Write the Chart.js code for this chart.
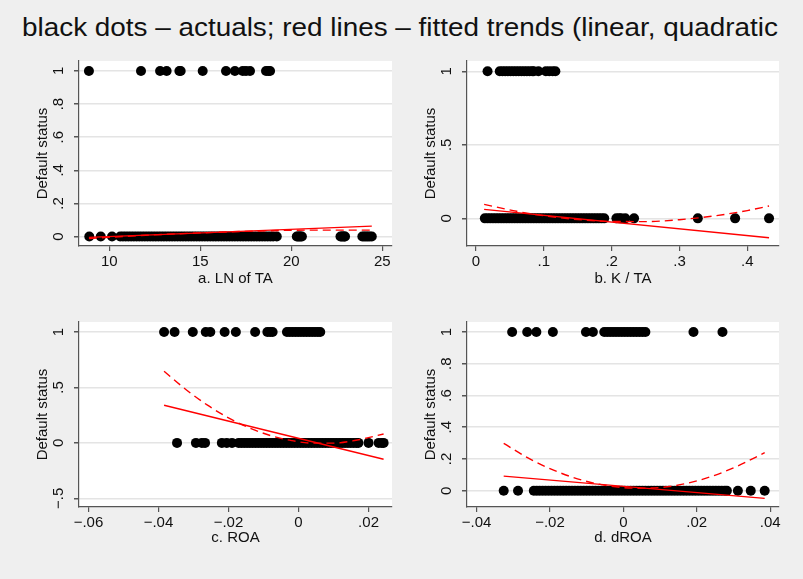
<!DOCTYPE html>
<html>
<head>
<meta charset="utf-8">
<script src="https://cdn.jsdelivr.net/npm/chart.js@4.4.1/dist/chart.umd.min.js"></script>
<style>
  html, body { margin: 0; padding: 0; background: #efefef; }
  #wrap { position: relative; width: 803px; height: 579px; overflow: hidden; background: #efefef; }
  #title {
    position: absolute; left: 22px; top: 14px;
    font-family: "Liberation Sans", Arial, sans-serif; font-size: 26px; line-height: 26px;
    color: #111; white-space: nowrap; transform-origin: 0 0;
  }
  canvas { position: absolute; }
</style>
</head>
<body>
<div id="wrap">
  <div id="title">black dots – actuals; red lines – fitted trends (linear, quadratic</div>
  <canvas id="panelA" width="400" height="250" style="left:0px;top:50px"></canvas>
  <canvas id="panelB" width="403" height="250" style="left:400px;top:50px"></canvas>
  <canvas id="panelC" width="400" height="269" style="left:0px;top:310px"></canvas>
  <canvas id="panelD" width="403" height="269" style="left:400px;top:310px"></canvas>
</div>
<script>
// a. LN of TA
const lnTaNonDefault = [8.9, 9.53, 10.15,
  10.6, 10.75, 10.9, 11.05, 11.2, 11.35, 11.5, 11.65, 11.8, 11.95, 12.1, 12.25, 12.4, 12.55, 12.7, 12.85,
  13.0, 13.15, 13.3, 13.45, 13.6, 13.75, 13.9, 14.05, 14.2, 14.35, 14.5, 14.65, 14.8, 14.95, 15.1, 15.25,
  15.4, 15.55, 15.7, 15.85, 16.0, 16.15, 16.3, 16.45, 16.6, 16.75, 16.9, 17.05, 17.2, 17.35, 17.5, 17.65,
  17.8, 17.95, 18.1, 18.25, 18.4, 18.55, 18.7, 18.85, 19.0, 19.2,
  20.3, 20.37, 20.44, 20.51, 20.58, 22.7, 22.77, 22.84, 22.91, 22.95,
  23.9, 24.0, 24.1, 24.2, 24.3, 24.42];
const lnTaDefault = [8.88, 11.74, 12.79, 13.15, 13.85, 13.92, 15.13, 16.41, 16.9, 17.33, 17.51, 17.73, 18.61, 18.74, 18.83];
const lnTaLinX = [8.88, 24.42];
const lnTaLinY = [-0.005, 0.063];
const lnTaQuadX = [8.88, 12, 15, 18, 21, 24.42];
const lnTaQuadY = [-0.012, 0.008, 0.022, 0.033, 0.039, 0.039];
const lnTaXTicks = [10, 15, 20, 25];
const lnTaXLabels = ['10', '15', '20', '25'];
const lnTaYTicks = [0, 0.2, 0.4, 0.6, 0.8, 1];
const lnTaYLabels = ['0', '.2', '.4', '.6', '.8', '1'];

// b. K / TA
const ktaNonDefault = [0.013, 0.017, 0.021, 0.025, 0.029, 0.033, 0.037, 0.041, 0.045, 0.049, 0.053, 0.057,
  0.061, 0.065, 0.069, 0.073, 0.077, 0.081, 0.085, 0.089, 0.093, 0.097, 0.101, 0.105, 0.109, 0.113, 0.117,
  0.121, 0.125, 0.129, 0.133, 0.137, 0.141, 0.145, 0.149, 0.153, 0.157, 0.161, 0.165, 0.169, 0.173, 0.177,
  0.181, 0.185, 0.189, 0.207, 0.211, 0.214, 0.22, 0.233, 0.327, 0.382, 0.432];
const ktaDefault = [0.017, 0.035, 0.039, 0.043, 0.047, 0.051, 0.055, 0.059, 0.063, 0.067, 0.071, 0.075,
  0.079, 0.083, 0.085, 0.092, 0.103, 0.108, 0.113, 0.117];
const ktaLinX = [0.012, 0.432];
const ktaLinY = [0.061, -0.132];
const ktaQuadX = [0.012, 0.06, 0.1, 0.15, 0.2, 0.25, 0.3, 0.35, 0.4, 0.432];
const ktaQuadY = [0.095, 0.048, 0.018, -0.008, -0.021, -0.022, -0.009, 0.016, 0.053, 0.084];
const ktaXTicks = [0, 0.1, 0.2, 0.3, 0.4];
const ktaXLabels = ['0', '.1', '.2', '.3', '.4'];
const ktaYTicks = [0, 0.5, 1];
const ktaYLabels = ['0', '.5', '1'];

// c. ROA
const roaNonDefault = [-0.0347, -0.0293, -0.0276, -0.0267, -0.0219, -0.0205, -0.019,
  -0.0171, -0.0163, -0.0155, -0.0147, -0.0139, -0.0131, -0.0123, -0.0115, -0.0107, -0.0099, -0.0091, -0.0083,
  -0.0075, -0.0067, -0.0059, -0.0051, -0.0043, -0.0035, -0.0027, -0.0019, -0.0011, -0.0003, 0.0005, 0.0013,
  0.0021, 0.0029, 0.0037, 0.0045, 0.0053, 0.0061, 0.0069, 0.0077, 0.0085, 0.0093, 0.0101, 0.0109, 0.0117,
  0.0125, 0.0133, 0.0141, 0.0149, 0.0157, 0.0165, 0.0171,
  0.02, 0.0229, 0.0238, 0.0243];
const roaDefault = [-0.0384, -0.0354, -0.0302, -0.0265, -0.0252, -0.0211, -0.0179, -0.0124, -0.0089, -0.0081,
  -0.0074, -0.0033, -0.0025, -0.0017, -0.0009, -0.0001, 0.0007, 0.0015, 0.0023, 0.0031, 0.0039, 0.0047,
  0.0055, 0.0062];
const roaLinX = [-0.0384, 0.0243];
const roaLinY = [0.339, -0.147];
const roaQuadX = [-0.0384, -0.032, -0.026, -0.02, -0.014, -0.008, -0.002, 0.004, 0.01, 0.016, 0.0243];
const roaQuadY = [0.646, 0.477, 0.34, 0.226, 0.135, 0.066, 0.021, -0.002, -0.002, 0.021, 0.08];
const roaXTicks = [-0.06, -0.04, -0.02, 0, 0.02];
const roaXLabels = ['\u2212.06', '\u2212.04', '\u2212.02', '0', '.02'];
const roaYTicks = [-0.5, 0, 0.5, 1];
const roaYLabels = ['\u2212.5', '0', '.5', '1'];

// d. dROA
const droaNonDefault = [-0.0326, -0.0287,
  -0.0244, -0.0236, -0.0228, -0.022, -0.0212, -0.0204, -0.0196, -0.0188, -0.018, -0.0172, -0.0164, -0.0156,
  -0.0148, -0.014, -0.0132, -0.0124, -0.0116, -0.0108, -0.01, -0.0092, -0.0084, -0.0076, -0.0068, -0.006,
  -0.0052, -0.0044, -0.0036, -0.0028, -0.002, -0.0012, -0.0004, 0.0004, 0.0012, 0.002, 0.0028, 0.0036,
  0.0044, 0.0052, 0.006, 0.0068, 0.0076, 0.0084, 0.0092, 0.01, 0.0108, 0.0116, 0.0124, 0.0132, 0.014,
  0.0148, 0.0156, 0.0164, 0.0172, 0.018, 0.0188, 0.0196, 0.0204, 0.0212, 0.022, 0.0228, 0.0236, 0.0244,
  0.0252, 0.026, 0.0268, 0.0276, 0.0282,
  0.0312, 0.0347, 0.0385];
const droaDefault = [-0.0303, -0.0262, -0.0237, -0.0192, -0.0102, -0.0083,
  -0.0052, -0.0044, -0.0036, -0.0028, -0.002, -0.0012, -0.0004, 0.0004, 0.0012, 0.002, 0.0028, 0.0036,
  0.0044, 0.0052, 0.006, 0.0191, 0.027];
const droaLinX = [-0.0326, 0.0385];
const droaLinY = [0.092, -0.048];
const droaQuadX = [-0.0326, -0.025, -0.018, -0.011, -0.004, 0.003, 0.01, 0.017, 0.024, 0.031, 0.0385];
const droaQuadY = [0.298, 0.194, 0.12, 0.065, 0.031, 0.016, 0.02, 0.045, 0.09, 0.154, 0.24];
const droaXTicks = [-0.04, -0.02, 0, 0.02, 0.04];
const droaXLabels = ['\u2212.04', '\u2212.02', '0', '.02', '.04'];
const droaYTicks = [0, 0.2, 0.4, 0.6, 0.8, 1];
const droaYLabels = ['0', '.2', '.4', '.6', '.8', '1'];

const yTitle = 'Default status';
const FONT = '"Liberation Sans", Arial, sans-serif';

// stretch the title to the width it has in the picture
const titleEl = document.getElementById('title');
const tw = titleEl.getBoundingClientRect().width;
titleEl.style.transform = 'scaleX(' + (756 / tw) + ')';

const toPoints = (xs, ys) => xs.map((x, i) => ({ x: x, y: ys[i] }));

// draws stata-like tick labels (rotated on y) and axis titles
const stataLabels = {
    id: 'stataLabels',
    beforeDraw(chart) {
        const a = chart.chartArea;
        const ctx = chart.ctx;
        ctx.save();
        ctx.fillStyle = '#ffffff';
        ctx.fillRect(a.left, a.top, a.right - a.left, a.bottom - a.top);
        ctx.restore();
    },
    afterDraw(chart) {
        const p = chart.options.plugins.stataLabels;
        const a = chart.chartArea;
        const ctx = chart.ctx;
        const xs = chart.scales.x, ys = chart.scales.y;
        ctx.save();
        ctx.fillStyle = '#111';
        ctx.font = '15px ' + FONT;
        ctx.textAlign = 'center';
        ctx.textBaseline = 'middle';
        p.xTicks.forEach((v, i) => {
            ctx.fillText(p.xLabels[i], xs.getPixelForValue(v), a.bottom + 16);
        });
        ctx.fillText(p.xTitle, (a.left + a.right) / 2, a.bottom + p.titleGap);
        p.yTicks.forEach((v, i) => {
            ctx.save();
            ctx.translate(a.left - 20, ys.getPixelForValue(v));
            ctx.rotate(-Math.PI / 2);
            ctx.fillText(p.yLabels[i], 0, 0);
            ctx.restore();
        });
        ctx.translate(a.left - 36, (a.top + a.bottom) / 2);
        ctx.rotate(-Math.PI / 2);
        ctx.fillText(yTitle, 0, 0);
        ctx.restore();
    }
};

function drawPanel(id, cfg) {
    const ctx = document.getElementById(id).getContext('2d');
    return new Chart(ctx, {
        type: 'scatter',
        data: {
            datasets: [
                {
                    label: 'linear',
                    data: toPoints(cfg.linX, cfg.linY),
                    showLine: true,
                    borderColor: '#ff0000',
                    borderWidth: 1.4,
                    pointRadius: 0,
                    fill: false
                },
                {
                    label: 'quadratic',
                    data: toPoints(cfg.quadX, cfg.quadY),
                    showLine: true,
                    borderColor: '#ff0000',
                    borderWidth: 1.4,
                    borderDash: [8, 5],
                    cubicInterpolationMode: 'monotone',
                    pointRadius: 0,
                    fill: false
                },
                {
                    label: 'default',
                    data: cfg.ones.map(x => ({ x: x, y: 1 })),
                    backgroundColor: '#000',
                    borderWidth: 0,
                    pointRadius: 5,
                    clip: false
                },
                {
                    label: 'non-default',
                    data: cfg.zeros.map(x => ({ x: x, y: 0 })),
                    backgroundColor: '#000',
                    borderWidth: 0,
                    pointRadius: 5,
                    clip: false
                }
            ]
        },
        options: {
            responsive: false,
            animation: false,
            events: [],
            layout: { padding: { top: cfg.padTop, right: cfg.padRight, left: 0, bottom: 0 } },
            plugins: {
                legend: { display: false },
                tooltip: { enabled: false },
                stataLabels: {
                    xTicks: cfg.xTicks, xLabels: cfg.xLabels, yTicks: cfg.yTicks, yLabels: cfg.yLabels,
                    xTitle: cfg.xTitle, titleGap: cfg.titleGap
                }
            },
            scales: {
                x: {
                    type: 'linear',
                    min: cfg.xMin,
                    max: cfg.xMax,
                    afterBuildTicks: s => { s.ticks = cfg.xTicks.map(v => ({ value: v })); },
                    afterFit: s => { s.height = cfg.xAxisH; },
                    ticks: { display: false },
                    grid: { drawOnChartArea: false, tickLength: 5, tickColor: '#555', lineWidth: 1.2 },
                    border: { color: '#555', width: 1.2 }
                },
                y: {
                    type: 'linear',
                    min: cfg.yMin,
                    max: cfg.yMax,
                    afterBuildTicks: s => { s.ticks = cfg.yTicks.map(v => ({ value: v })); },
                    afterFit: s => { s.width = cfg.yAxisW; },
                    ticks: { display: false },
                    grid: { color: '#e4e4e4', lineWidth: 1.5, tickLength: 5, tickColor: '#555' },
                    border: { color: '#555', width: 1.2 }
                }
            }
        },
        plugins: [stataLabels]
    });
}

const leftCol = { yAxisW: 79, padRight: 8 };
const rightCol = { yAxisW: 67, padRight: 24 };
const topRow = { padTop: 11, xAxisH: 54, titleGap: 33 };
const bottomRow = { padTop: 12, xAxisH: 72, titleGap: 31 };

drawPanel('panelA', Object.assign({}, leftCol, topRow, {
    zeros: lnTaNonDefault, ones: lnTaDefault, linX: lnTaLinX, linY: lnTaLinY, quadX: lnTaQuadX, quadY: lnTaQuadY,
    xTicks: lnTaXTicks, xLabels: lnTaXLabels, yTicks: lnTaYTicks, yLabels: lnTaYLabels,
    xTitle: 'a. LN of TA', xMin: 8.335, xMax: 25.53, yMin: -0.057, yMax: 1.06
}));
drawPanel('panelB', Object.assign({}, rightCol, topRow, {
    zeros: ktaNonDefault, ones: ktaDefault, linX: ktaLinX, linY: ktaLinY, quadX: ktaQuadX, quadY: ktaQuadY,
    xTicks: ktaXTicks, xLabels: ktaXLabels, yTicks: ktaYTicks, yLabels: ktaYLabels,
    xTitle: 'b. K / TA', xMin: -0.0133, xMax: 0.4467, yMin: -0.188, yMax: 1.0703
}));
drawPanel('panelC', Object.assign({}, leftCol, bottomRow, {
    zeros: roaNonDefault, ones: roaDefault, linX: roaLinX, linY: roaLinY, quadX: roaQuadX, quadY: roaQuadY,
    xTicks: roaXTicks, xLabels: roaXLabels, yTicks: roaYTicks, yLabels: roaYLabels,
    xTitle: 'c. ROA', xMin: -0.0627, xMax: 0.0267, yMin: -0.578, yMax: 1.09
}));
drawPanel('panelD', Object.assign({}, rightCol, bottomRow, {
    zeros: droaNonDefault, ones: droaDefault, linX: droaLinX, linY: droaLinY, quadX: droaQuadX, quadY: droaQuadY,
    xTicks: droaXTicks, xLabels: droaXLabels, yTicks: droaYTicks, yLabels: droaYLabels,
    xTitle: 'd. dROA', xMin: -0.0426, xMax: 0.0424, yMin: -0.1025, yMax: 1.063
}));
</script>
</body>
</html>
